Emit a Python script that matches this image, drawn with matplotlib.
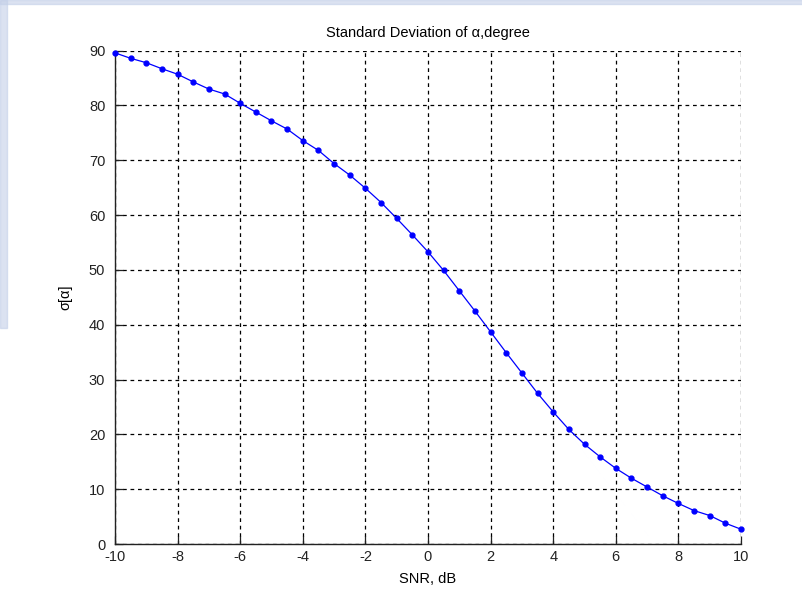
import matplotlib.pyplot as plt
import numpy as np
from matplotlib.patches import Rectangle

# SNR sweep (dB) and measured std deviation of alpha (degrees)
snr_db = np.arange(-10, 10.5, 0.5)
sigma_alpha = [89.6, 88.6, 87.8, 86.7, 85.7, 84.3, 83.0, 82.1, 80.4, 78.8,
               77.2, 75.7, 73.6, 71.8, 69.4, 67.3, 64.9, 62.3, 59.4, 56.4,
               53.3, 49.9, 46.2, 42.5, 38.7, 34.9, 31.2, 27.5, 24.1, 20.9,
               18.2, 15.9, 13.8, 12.0, 10.4, 8.8, 7.4, 6.1, 5.2, 3.8, 2.7]
x_ticks = list(range(-10, 11, 2))
y_ticks = list(range(0, 91, 10))

plt.rcParams['font.family'] = ['Liberation Sans', 'DejaVu Sans']
plt.rcParams['axes.unicode_minus'] = False

fig = plt.figure(figsize=(8.03, 5.96), dpi=100)
fig.patch.set_facecolor('white')

# faint bluish background strips along the top and left edges
fig.patches.append(Rectangle((0, 0.993), 1, 0.007, transform=fig.transFigure,
                             color='#c3cfe8', alpha=0.6, zorder=0))
fig.patches.append(Rectangle((0, 0.45), 0.009, 0.55, transform=fig.transFigure,
                             color='#c3cfe8', alpha=0.6, zorder=0))

ax = fig.add_axes([0.1432, 0.0872, 0.7796, 0.8278])
ax.plot(snr_db, sigma_alpha, color='blue', linewidth=0.9,
        marker='.', markersize=7, zorder=3, clip_on=False)

ax.set_xlim(-10, 10)
ax.set_ylim(0, 90)
ax.set_xticks(x_ticks)
ax.set_yticks(y_ticks)
ax.grid(True, color='black', linestyle=(0, (3, 3)), linewidth=0.9)
ax.set_axisbelow(True)

for side in ('top', 'right'):
    ax.spines[side].set_visible(False)
for side in ('left', 'bottom'):
    ax.spines[side].set_linewidth(1.0)
    ax.spines[side].set_color('#222222')
ax.tick_params(direction='in', length=6, width=0.9, labelsize=10.5,
               colors='#222222')
ax.tick_params(axis='x', pad=4)
ax.tick_params(axis='y', pad=7)

ax.set_xlabel('SNR, dB', fontsize=10.5, labelpad=6)
ax.set_ylabel('σ[α]', fontsize=10.5, labelpad=12)
ax.set_title('Standard Deviation of α,degree', fontsize=10.5, pad=10)

fig.savefig('out.png', dpi=100)
